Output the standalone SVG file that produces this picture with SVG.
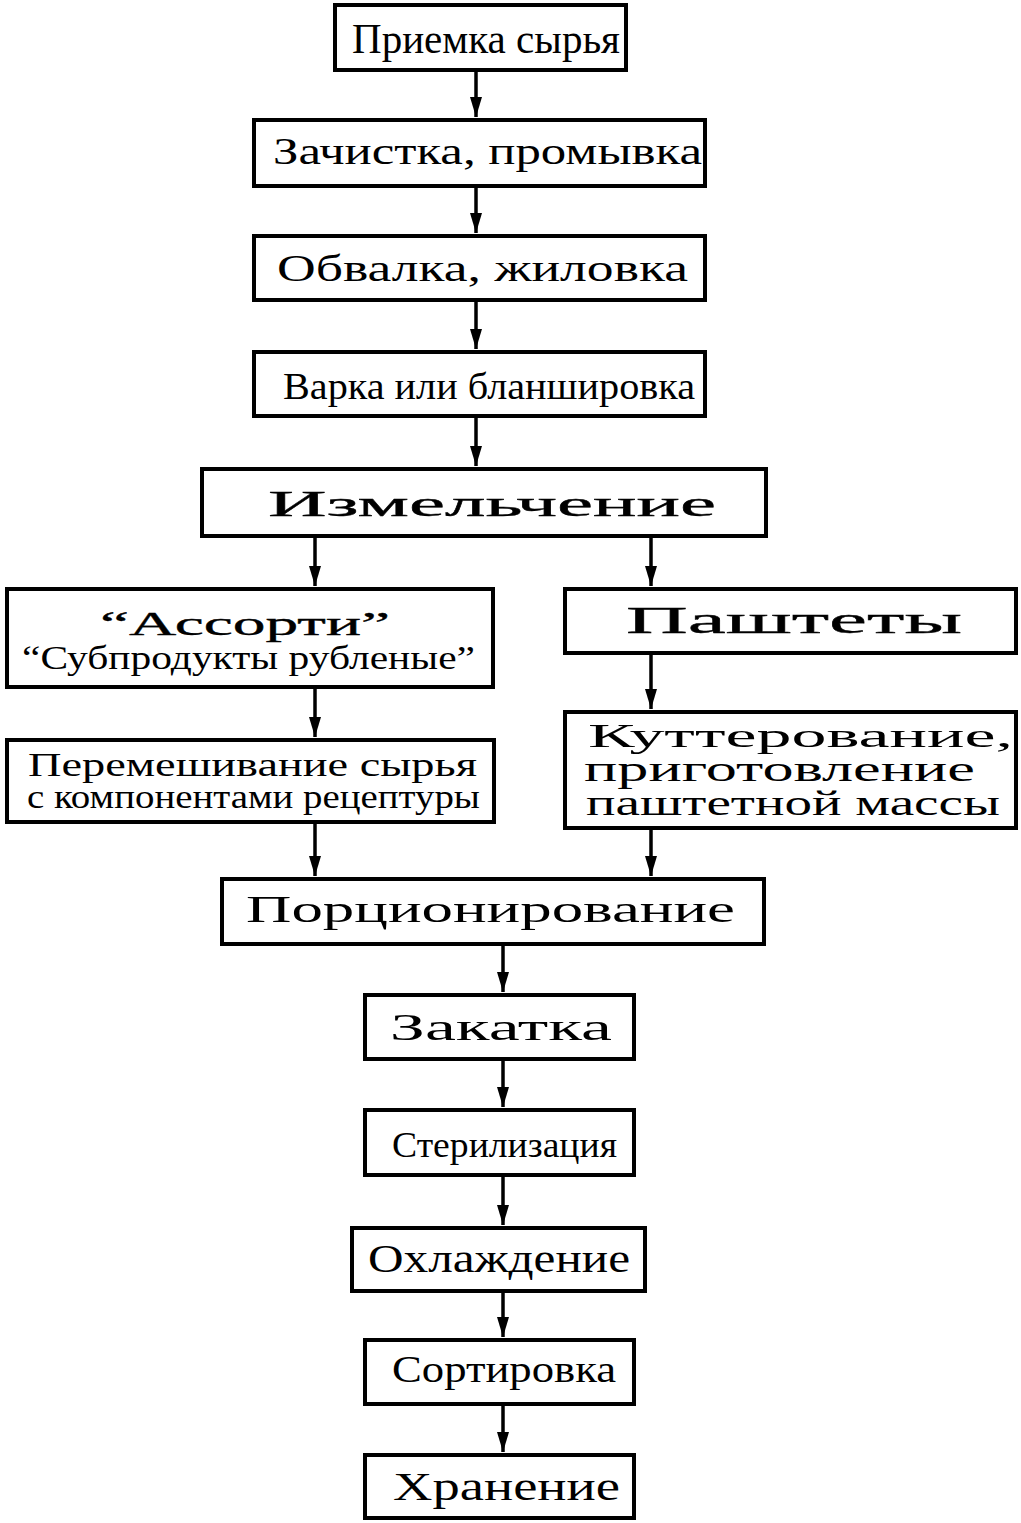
<svg xmlns="http://www.w3.org/2000/svg" width="1021" height="1523" viewBox="0 0 1021 1523">
<style>
.box{fill:#fff;stroke:#000;stroke-width:4}
.t{font-family:"Liberation Serif","Times New Roman",serif;fill:#000}
.b{stroke:#000;stroke-width:0.35}
.c{stroke:#000;stroke-width:3.5;fill:none}
</style>
<defs>
<marker id="ah" viewBox="0 0 20 12" refX="20" refY="6" markerWidth="20" markerHeight="12" markerUnits="userSpaceOnUse" orient="auto">
<path d="M0,0 L20,6 L0,12 z" fill="#000"/>
</marker>
</defs>
<rect width="1021" height="1523" fill="#fff"/>
<g id="connectors">
<line class="c" x1="476" y1="72" x2="476" y2="117" marker-end="url(#ah)"/>
<line class="c" x1="476" y1="188" x2="476" y2="233" marker-end="url(#ah)"/>
<line class="c" x1="476" y1="302" x2="476" y2="349" marker-end="url(#ah)"/>
<line class="c" x1="476" y1="418" x2="476" y2="466" marker-end="url(#ah)"/>
<line class="c" x1="315" y1="538" x2="315" y2="586" marker-end="url(#ah)"/>
<line class="c" x1="651" y1="538" x2="651" y2="586" marker-end="url(#ah)"/>
<line class="c" x1="315" y1="689" x2="315" y2="737" marker-end="url(#ah)"/>
<line class="c" x1="651" y1="655" x2="651" y2="709" marker-end="url(#ah)"/>
<line class="c" x1="315" y1="824" x2="315" y2="876" marker-end="url(#ah)"/>
<line class="c" x1="651" y1="830" x2="651" y2="876" marker-end="url(#ah)"/>
<line class="c" x1="503" y1="946" x2="503" y2="992" marker-end="url(#ah)"/>
<line class="c" x1="503" y1="1061" x2="503" y2="1107" marker-end="url(#ah)"/>
<line class="c" x1="503" y1="1177" x2="503" y2="1225" marker-end="url(#ah)"/>
<line class="c" x1="503" y1="1293" x2="503" y2="1337" marker-end="url(#ah)"/>
<line class="c" x1="503" y1="1406" x2="503" y2="1452" marker-end="url(#ah)"/>
</g>
<g id="n1"><rect class="box" x="335" y="5" width="291" height="65"/>
<text class="t" x="352" y="53" font-size="42" textLength="268" lengthAdjust="spacingAndGlyphs">Приемка сырья</text></g>
<g id="n2"><rect class="box" x="254" y="120" width="451" height="66"/>
<text class="t" x="273" y="164" font-size="38" textLength="429" lengthAdjust="spacingAndGlyphs">Зачистка, промывка</text></g>
<g id="n3"><rect class="box" x="254" y="236" width="451" height="64"/>
<text class="t" x="277" y="281" font-size="38" textLength="411" lengthAdjust="spacingAndGlyphs">Обвалка, жиловка</text></g>
<g id="n4"><rect class="box" x="254" y="352" width="451" height="64"/>
<text class="t" x="283" y="399" font-size="38" textLength="412" lengthAdjust="spacingAndGlyphs">Варка или бланшировка</text></g>
<g id="n5"><rect class="box" x="202" y="469" width="564" height="67"/>
<text class="t b" x="268" y="516" font-size="36" textLength="448" lengthAdjust="spacingAndGlyphs">Измельчение</text></g>
<g id="n6"><rect class="box" x="7" y="589" width="486" height="98"/>
<text class="t b" x="100" y="635" font-size="34" textLength="290" lengthAdjust="spacingAndGlyphs">“Ассорти”</text>
<text class="t" x="22" y="669" font-size="34" textLength="453" lengthAdjust="spacingAndGlyphs">“Субпродукты рубленые”</text></g>
<g id="n7"><rect class="box" x="7" y="740" width="487" height="82"/>
<text class="t" x="28" y="776" font-size="33" textLength="449" lengthAdjust="spacingAndGlyphs">Перемешивание сырья</text>
<text class="t" x="27" y="808" font-size="33" textLength="453" lengthAdjust="spacingAndGlyphs">с компонентами рецептуры</text></g>
<g id="n8"><rect class="box" x="565" y="589" width="451" height="64"/>
<text class="t b" x="626" y="633" font-size="38" textLength="336" lengthAdjust="spacingAndGlyphs">Паштеты</text></g>
<g id="n9"><rect class="box" x="565" y="712" width="451" height="116"/>
<text class="t" x="588" y="747" font-size="34" textLength="425" lengthAdjust="spacingAndGlyphs">Куттерование,</text>
<text class="t" x="584" y="781" font-size="36" textLength="391" lengthAdjust="spacingAndGlyphs">приготовление</text>
<text class="t" x="586" y="815" font-size="36" textLength="414" lengthAdjust="spacingAndGlyphs">паштетной массы</text></g>
<g id="n10"><rect class="box" x="222" y="879" width="542" height="65"/>
<text class="t" x="246" y="922" font-size="38" textLength="489" lengthAdjust="spacingAndGlyphs">Порционирование</text></g>
<g id="n11"><rect class="box" x="365" y="995" width="269" height="64"/>
<text class="t" x="390" y="1040" font-size="38" textLength="222" lengthAdjust="spacingAndGlyphs">Закатка</text></g>
<g id="n12"><rect class="box" x="365" y="1110" width="269" height="65"/>
<text class="t" x="392" y="1157" font-size="36" textLength="225" lengthAdjust="spacingAndGlyphs">Стерилизация</text></g>
<g id="n13"><rect class="box" x="352" y="1228" width="293" height="63"/>
<text class="t" x="368" y="1272" font-size="40" textLength="262" lengthAdjust="spacingAndGlyphs">Охлаждение</text></g>
<g id="n14"><rect class="box" x="365" y="1340" width="269" height="64"/>
<text class="t" x="392" y="1382" font-size="38" textLength="224" lengthAdjust="spacingAndGlyphs">Сортировка</text></g>
<g id="n15"><rect class="box" x="365" y="1455" width="269" height="63"/>
<text class="t" x="393" y="1500" font-size="40" textLength="227" lengthAdjust="spacingAndGlyphs">Хранение</text></g>
</svg>
